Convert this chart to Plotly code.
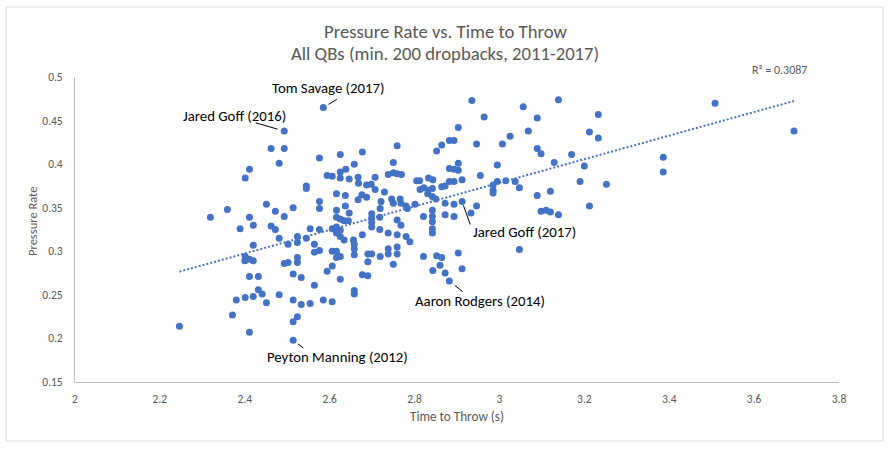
import numpy as np
import plotly.graph_objects as go

# ---------------- data ----------------
time_to_throw = [
    # group 1
    2.493, 2.462, 2.493, 2.481, 2.576, 2.411, 2.401,
    # group 2
    2.545, 2.545, 2.451, 2.359, 2.472, 2.514, 2.576, 2.576, 2.319, 2.411,
    2.493, 2.420, 2.389, 2.462, 2.472, 2.481, 2.524, 2.524, 2.545, 2.554,
    2.576, 2.502, 2.564, 2.420, 2.401, 2.400, 2.411, 2.420, 2.493, 2.502,
    2.524, 2.524, 2.564, 2.576, 2.411, 2.432, 2.514, 2.533, 2.564, 2.432,
    2.441, 2.420, 2.401, 2.380, 2.451, 2.481, 2.514, 2.533, 2.554, 2.371,
    2.524, 2.514, 2.246, 2.411, 2.514,
    # group 3
    2.585, 2.759, 2.677, 2.625, 2.852, 2.658, 2.750, 2.594, 2.606, 2.625,
    2.625, 2.638, 2.646, 2.667, 2.668, 2.707, 2.738, 2.750, 2.759, 2.769,
    2.805, 2.812, 2.833, 2.843, 2.616, 2.637, 2.687, 2.698, 2.707, 2.729,
    2.746, 2.766, 2.750, 2.768, 2.813, 2.822, 2.832, 2.842, 2.831, 2.842,
    2.850, 2.667, 2.676, 2.687, 2.721, 2.719, 2.780, 2.783, 2.801, 2.637,
    2.616, 2.646, 2.699, 2.699, 2.718, 2.821, 2.842, 2.842, 2.842, 2.842,
    2.842, 2.616, 2.625, 2.634, 2.644, 2.606, 2.616, 2.625, 2.616, 2.625,
    2.634, 2.656, 2.658, 2.677, 2.699, 2.699, 2.718, 2.738, 2.759, 2.780,
    2.789, 2.768, 2.759, 2.606, 2.616, 2.625, 2.616, 2.594, 2.606, 2.625,
    2.658, 2.658, 2.677, 2.690, 2.658, 2.658, 2.690, 2.699, 2.690, 2.719,
    2.738, 2.738, 2.759, 2.759, 2.750, 2.821, 2.852, 2.864, 2.860, 2.843,
    2.585, 2.606,
    # group 4
    2.935, 3.139, 3.056, 2.964, 3.089, 2.903, 3.068, 3.212, 2.864, 2.882,
    2.893, 2.946, 3.007, 3.025, 3.089, 3.098, 3.170, 3.129, 3.200, 2.995,
    2.903, 2.903, 2.893, 2.882, 2.955, 2.912, 2.893, 2.882, 2.872, 2.864,
    2.995, 3.015, 3.037, 3.047, 2.985, 2.985, 2.985, 3.190, 3.089, 3.120,
    2.872, 2.893, 2.912, 2.946, 2.933, 2.872, 2.893, 3.098, 3.110, 3.120,
    3.139, 3.212, 3.047, 2.903, 2.912, 2.872, 2.882,
    # group 5
    3.233, 3.508, 3.233, 3.694, 3.386, 3.386, 3.252,
]

pressure_rate = [
    # group 1
    0.438, 0.418, 0.418, 0.401, 0.407, 0.394, 0.384,
    # group 2
    0.375, 0.372, 0.354, 0.348, 0.346, 0.350, 0.357, 0.349, 0.339, 0.339,
    0.340, 0.330, 0.326, 0.329, 0.325, 0.315, 0.317, 0.310, 0.315, 0.326,
    0.325, 0.308, 0.308, 0.307, 0.294, 0.289, 0.291, 0.289, 0.286, 0.287,
    0.293, 0.287, 0.299, 0.301, 0.271, 0.271, 0.274, 0.270, 0.261, 0.256,
    0.251, 0.248, 0.247, 0.244, 0.241, 0.250, 0.244, 0.239, 0.240, 0.227,
    0.225, 0.219, 0.214, 0.207, 0.198,
    # group 3
    0.465, 0.421, 0.414, 0.411, 0.415, 0.400, 0.402, 0.387, 0.386, 0.384,
    0.391, 0.394, 0.383, 0.385, 0.378, 0.385, 0.388, 0.390, 0.389, 0.388,
    0.381, 0.381, 0.384, 0.382, 0.366, 0.364, 0.376, 0.377, 0.371, 0.368,
    0.360, 0.360, 0.355, 0.355, 0.371, 0.373, 0.370, 0.372, 0.366, 0.363,
    0.360, 0.359, 0.365, 0.362, 0.357, 0.349, 0.352, 0.349, 0.354, 0.352,
    0.347, 0.344, 0.343, 0.338, 0.339, 0.340, 0.347, 0.340, 0.334, 0.326,
    0.321, 0.339, 0.337, 0.335, 0.335, 0.326, 0.328, 0.324, 0.321, 0.317,
    0.313, 0.313, 0.308, 0.319, 0.328, 0.333, 0.325, 0.321, 0.319, 0.317,
    0.311, 0.330, 0.336, 0.300, 0.300, 0.294, 0.293, 0.277, 0.283, 0.268,
    0.255, 0.251, 0.273, 0.272, 0.303, 0.296, 0.297, 0.297, 0.288, 0.294,
    0.303, 0.297, 0.305, 0.297, 0.285, 0.294, 0.295, 0.293, 0.284, 0.278,
    0.244, 0.242,
    # group 4
    0.473, 0.474, 0.466, 0.454, 0.453, 0.442, 0.438, 0.437, 0.422, 0.427,
    0.427, 0.423, 0.423, 0.432, 0.418, 0.412, 0.411, 0.402, 0.398, 0.399,
    0.401, 0.393, 0.394, 0.395, 0.387, 0.382, 0.380, 0.380, 0.375, 0.374,
    0.380, 0.381, 0.380, 0.373, 0.376, 0.370, 0.367, 0.380, 0.364, 0.369,
    0.355, 0.354, 0.357, 0.352, 0.344, 0.342, 0.340, 0.346, 0.347, 0.345,
    0.342, 0.352, 0.302, 0.298, 0.280, 0.275, 0.266,
    # group 5
    0.457, 0.470, 0.430, 0.438, 0.408, 0.391, 0.377,
]

labeled_names = ["Tom Savage (2017)", "Jared Goff (2016)", "Jared Goff (2017)",
                 "Aaron Rodgers (2014)", "Peyton Manning (2012)"]
labeled_x = [2.585, 2.493, 2.912, 2.882, 2.514]
labeled_y = [0.465, 0.438, 0.357, 0.266, 0.198]

x_tick_vals = [2, 2.2, 2.4, 2.6, 2.8, 3, 3.2, 3.4, 3.6, 3.8]
x_tick_text = ["2", "2.2", "2.4", "2.6", "2.8", "3", "3.2", "3.4", "3.6", "3.8"]
y_tick_vals = [0.15, 0.2, 0.25, 0.3, 0.35, 0.4, 0.45, 0.5]
y_tick_text = ["0.15", "0.2", "0.25", "0.3", "0.35", "0.4", "0.45", "0.5"]

title_lines = ["Pressure Rate vs. Time to Throw", "All QBs (min. 200 dropbacks, 2011-2017)"]
r2_text = "R² = 0.3087"

# ---------------- styles ----------------
FONT = "Calibri, Carlito, Lato, sans-serif"
BLUE = "#4472C4"
GRAY = "#595959"
W, H = 889, 449
ML, MR, MT, MB = 75, 50, 77, 67
PW, PH = W - ML - MR, H - MT - MB

def px2paper_x(px):
    return (px - ML) / PW

def px2paper_y(py):
    return (H - MB - py) / PH

# ---------------- figure ----------------
fig = go.Figure()
fig.add_trace(go.Scatter(
    x=time_to_throw, y=pressure_rate, mode="markers",
    marker=dict(size=7, color=BLUE, line=dict(width=0)),
    hoverinfo="x+y", showlegend=False,
))

# linear trendline
xs = np.array(time_to_throw)
ys = np.array(pressure_rate)
slope, intercept = np.polyfit(xs, ys, 1)
tx = np.array([xs.min(), xs.max()])
fig.add_trace(go.Scatter(
    x=tx, y=slope * tx + intercept, mode="lines",
    line=dict(color=BLUE, width=2, dash="2px,2px"),
    hoverinfo="skip", showlegend=False,
))

annotations = []
# titles
annotations.append(dict(text=title_lines[0], xref="paper", yref="paper",
                        x=px2paper_x(445), y=px2paper_y(31), xanchor="center", yanchor="middle",
                        showarrow=False, font=dict(family=FONT, size=18.7, color=GRAY)))
annotations.append(dict(text=title_lines[1], xref="paper", yref="paper",
                        x=px2paper_x(445), y=px2paper_y(53), xanchor="center", yanchor="middle",
                        showarrow=False, font=dict(family=FONT, size=18.7, color=GRAY)))
# axis titles
annotations.append(dict(text="Pressure Rate", xref="paper", yref="paper",
                        x=px2paper_x(32), y=px2paper_y(222), xanchor="center", yanchor="middle",
                        textangle=-90, showarrow=False, font=dict(family=FONT, size=12.5, color=GRAY)))
annotations.append(dict(text="Time to Throw (s)", xref="paper", yref="paper",
                        x=px2paper_x(457), y=px2paper_y(417), xanchor="center", yanchor="middle",
                        showarrow=False, font=dict(family=FONT, size=13.2, color=GRAY)))
# R^2 label
annotations.append(dict(text=r2_text, xref="paper", yref="paper",
                        x=px2paper_x(779), y=px2paper_y(70), xanchor="center", yanchor="middle",
                        showarrow=False, font=dict(family=FONT, size=12, color=GRAY)))

# point labels: text offsets (px) and leader tails (px) with standoff
text_shift = [(5, 20), (-50, 15.5), (62, -30.4), (31, -19.7), (44.5, -17)]
leader_tail = [(15, -9), (-30, -8.6), (8.7, 24.4), (14.7, 12), (11.7, 9)]
leader_standoff = [6, 7, 4, 7, 6]
for name, lx, ly, (sx, sy), (ax, ay), so in zip(labeled_names, labeled_x, labeled_y,
                                                text_shift, leader_tail, leader_standoff):
    annotations.append(dict(text=name, x=lx, y=ly, xref="x", yref="y",
                            xshift=sx, yshift=sy, showarrow=False,
                            xanchor="center", yanchor="middle",
                            font=dict(family=FONT, size=14.8, color="#000000")))
    annotations.append(dict(text="", x=lx, y=ly, xref="x", yref="y",
                            ax=ax, ay=ay, axref="pixel", ayref="pixel",
                            showarrow=True, arrowhead=0, arrowwidth=1, arrowcolor="#000000",
                            standoff=so))

fig.update_layout(
    width=W, height=H,
    margin=dict(l=ML, r=MR, t=MT, b=MB, pad=0),
    paper_bgcolor="white", plot_bgcolor="white",
    font=dict(family=FONT, size=12, color=GRAY),
    annotations=annotations,
    shapes=[dict(type="rect", xref="paper", yref="paper",
                 x0=px2paper_x(6), x1=px2paper_x(883), y0=px2paper_y(441), y1=px2paper_y(7),
                 line=dict(color="#D9D9D9", width=1), fillcolor="rgba(0,0,0,0)", layer="below")],
    xaxis=dict(range=[2, 3.8], tickvals=x_tick_vals, ticktext=x_tick_text,
               showgrid=False, zeroline=False, showline=True, linecolor="#BFBFBF", linewidth=1,
               ticks="", ticklabelstandoff=6, tickfont=dict(family=FONT, size=11.5, color=GRAY)),
    yaxis=dict(range=[0.15, 0.5], tickvals=y_tick_vals, ticktext=y_tick_text,
               showgrid=False, zeroline=False, showline=True, linecolor="#BFBFBF", linewidth=1,
               ticks="", ticklabelstandoff=9, tickfont=dict(family=FONT, size=11.5, color=GRAY)),
)

fig.write_html("out.html", config={"displayModeBar": False},
               post_script="document.body.style.margin='0';document.body.style.overflow='hidden';")
